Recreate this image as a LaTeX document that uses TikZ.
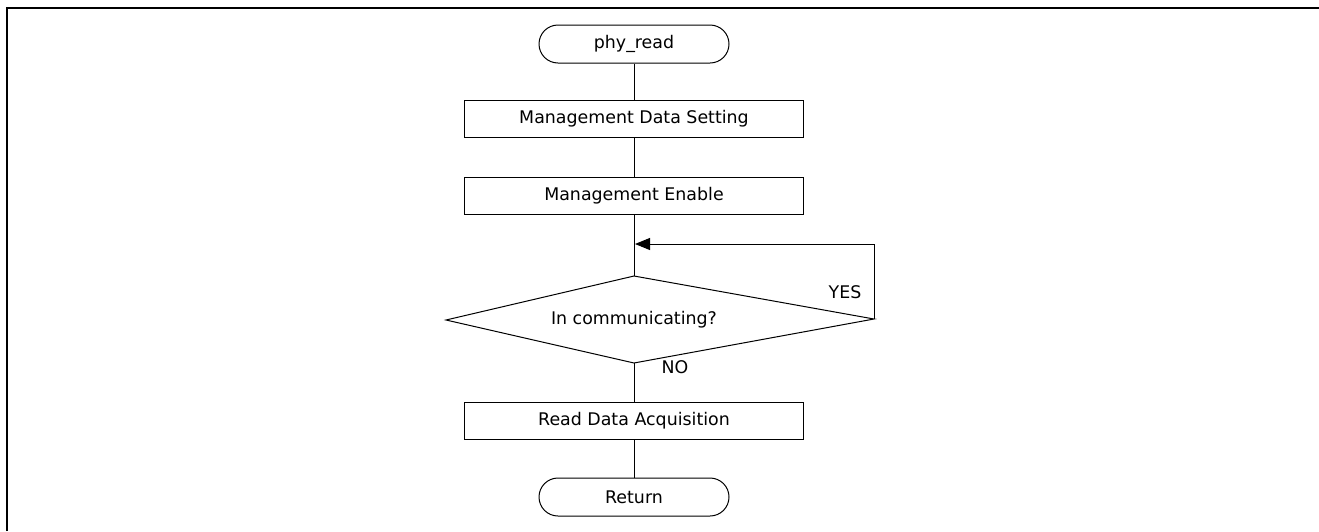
\documentclass[tikz,border=0pt]{standalone}
\usepackage{fontspec}
\setmainfont{DejaVu Sans}
\usetikzlibrary{positioning,arrows.meta}

\begin{document}
\begin{tikzpicture}[x=1pt,y=-1pt,on grid,line width=1pt,
	font=\fontsize{17.4}{21}\selectfont,
	term/.style={draw,rounded corners=19pt,minimum width=190pt,minimum height=38pt,inner sep=0pt},
	proc/.style={draw,minimum width=339pt,minimum height=37pt,inner sep=0pt}]
	\useasboundingbox (0,0) rectangle (1319,531);
	\draw[line width=2.5pt] (7,531) -- (7,8) -- (1319,8);

	\node[term] (start) at (634,44) {phy\_read};
	\node[proc,below=75pt of start] (set) {Management Data Setting};
	\node[proc,below=77pt of set] (enable) {Management Enable};
	\node[below=124pt of enable] (dec) {In communicating?};
	\node[proc,below=101pt of dec] (acq) {Read Data Acquisition};
	\node[term,below=76pt of acq] (ret) {Return};

	\coordinate (dtop) at ([yshift=44pt]dec.center);
	\coordinate (dleft) at ([xshift=-188pt]dec.center);
	\coordinate (dright) at ([xshift=240pt,yshift=1pt]dec.center);
	\coordinate (dbot) at ([yshift=-43pt]dec.center);
	\coordinate (merge) at ([yshift=76pt]dec.center);
	\draw (dtop) -- (dright) -- (dbot) -- (dleft) -- cycle;

	\path (start) edge (set)
		(set) edge (enable)
		(enable) edge (dtop)
		(dbot) edge (acq)
		(acq) edge (ret);
	\draw[-{Triangle[length=15pt,width=12pt]},shorten >=1pt] (dright) |- (merge);

	\node (yes) at (845,292) {YES};
	\node (no) at (675,367) {NO};
\end{tikzpicture}
\end{document}
